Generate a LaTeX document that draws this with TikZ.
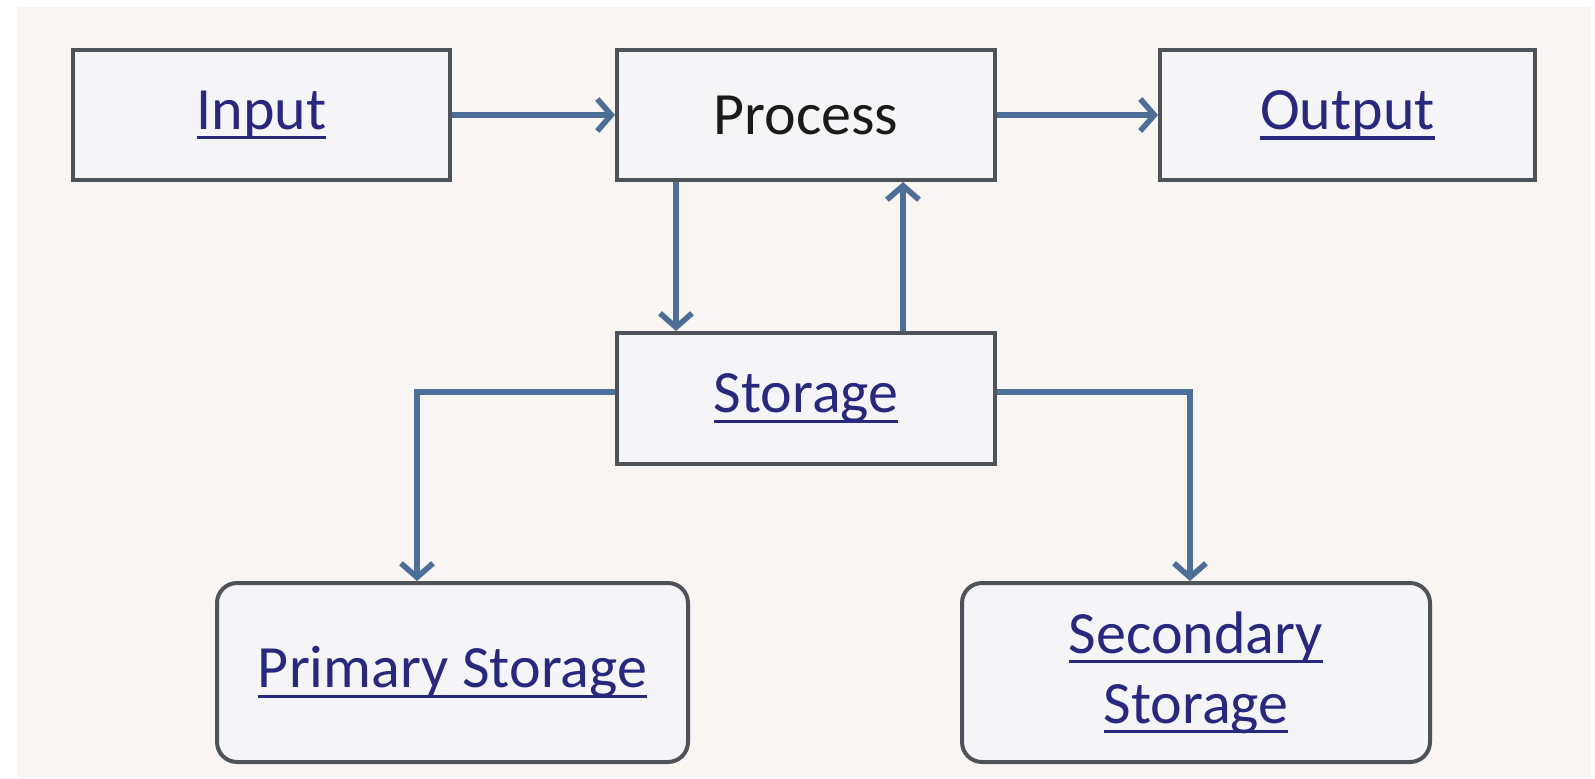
\documentclass[tikz,border=0pt]{standalone}
\usepackage{fontspec}
\setmainfont{Carlito}
\usetikzlibrary{arrows.meta}
\definecolor{bgc}{HTML}{F8F5F3}
\definecolor{boxfill}{HTML}{F5F5F8}
\definecolor{boxline}{HTML}{4E5359}
\definecolor{arrc}{HTML}{4C6E97}
\definecolor{linkc}{HTML}{28287F}
\definecolor{txtc}{HTML}{1A1A1A}
\newcommand\ulk[1]{\setbox0=\hbox{#1}\makebox[0pt][l]{\rule[-0.17em]{\wd0}{0.055em}}\copy0}
\begin{document}
\begin{tikzpicture}[x=0.5pt,y=-0.5pt,
  box/.style={draw=boxline, line width=2pt, fill=boxfill, font=\fontsize{30}{33}\selectfont, text=linkc, inner sep=0pt},
  rbox/.style={box, rounded corners=10pt},
  arr/.style={draw=arrc, line width=2.8pt, -{Straight Barb[length=7pt,width=16pt]}}]
\useasboundingbox (0,0) rectangle (1595,778);
\fill[white] (0,0) rectangle (1595,778);
\fill[bgc] (18,7) rectangle (1591,778);
\node[box, minimum width=188.5pt, minimum height=65pt] (input) at (261.5,115) {\ulk{Input}};
\node[box, minimum width=189pt, minimum height=65pt, text=txtc] (process) at (806,115) {Process};
\node[box, minimum width=187.5pt, minimum height=65pt] (output) at (1347.5,115) {\ulk{Output}};
\node[box, minimum width=189pt, minimum height=65.5pt] (storage) at (806,398.5) {\ulk{Storage}};
\node[rbox, minimum width=235.5pt, minimum height=89.5pt] (primary) at (452.5,672.5) {\ulk{Primary Storage}};
\node[rbox, minimum width=234pt, minimum height=89.5pt, align=center] (secondary) at (1196,672.5) {\ulk{Secondary}\\[2pt]\ulk{Storage}};
\draw[arr] (input.east) -- (process.west);
\draw[arr] (process.east) -- (output.west);
\draw[arr] ([xshift=-65pt]process.south) -- ([xshift=-65pt]storage.north);
\draw[arr] ([xshift=48.5pt]storage.north) -- ([xshift=48.5pt]process.south);
\draw[arr] ([yshift=3.25pt]storage.west) -| ([xshift=-17.75pt]primary.north);
\draw[arr] ([yshift=3.25pt]storage.east) -| ([xshift=-3pt]secondary.north);
\end{tikzpicture}
\end{document}
